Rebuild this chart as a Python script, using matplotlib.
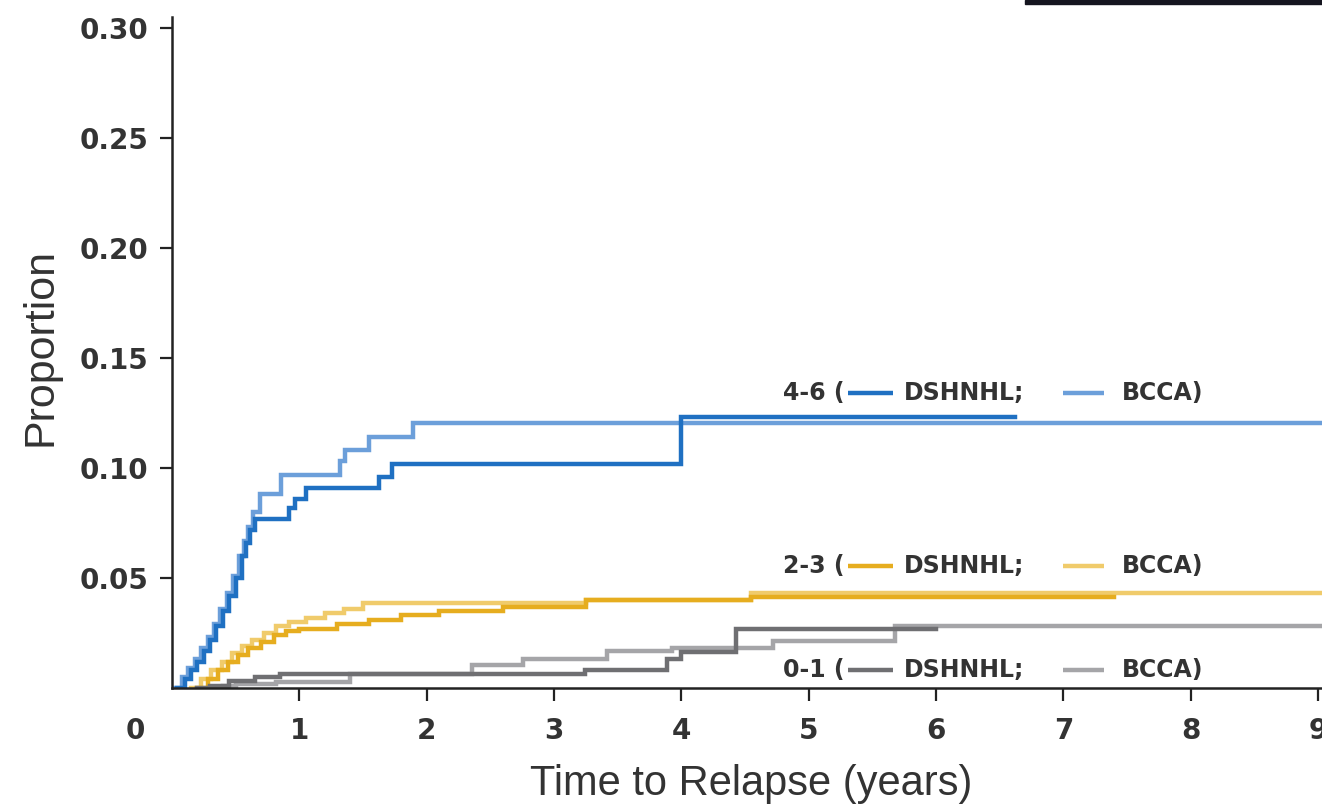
import matplotlib
matplotlib.use("Agg")
import matplotlib.pyplot as plt
from matplotlib.patches import Rectangle

# DATA (cumulative proportion relapsed)
t_46_dshnhl = [0.04, 0.10, 0.15, 0.20, 0.25, 0.30, 0.35, 0.40, 0.45, 0.50, 0.55, 0.58, 0.61, 0.65,
               0.92, 0.97, 1.05, 1.63, 1.73, 4.00, 6.62]
p_46_dshnhl = [0, 0.004, 0.008, 0.012, 0.017, 0.022, 0.028, 0.035, 0.042, 0.050, 0.060, 0.066, 0.072, 0.077,
               0.082, 0.086, 0.091, 0.096, 0.102, 0.123, 0.123]

t_46_bcca = [0.02, 0.08, 0.13, 0.18, 0.23, 0.28, 0.33, 0.38, 0.43, 0.48, 0.53, 0.57, 0.60, 0.64,
             0.69, 0.86, 1.32, 1.36, 1.55, 1.89, 9.05]
p_46_bcca = [0, 0.005, 0.009, 0.013, 0.018, 0.023, 0.029, 0.036, 0.043, 0.051, 0.060, 0.067, 0.073, 0.080,
             0.088, 0.097, 0.103, 0.108, 0.114, 0.1205, 0.1205]

t_23_dshnhl = [0.20, 0.28, 0.36, 0.44, 0.52, 0.60, 0.70, 0.80, 0.90, 1.00, 1.30, 1.55, 1.80, 2.10,
               2.60, 3.25, 4.55, 7.40]
p_23_dshnhl = [0, 0.004, 0.008, 0.012, 0.015, 0.018, 0.021, 0.024, 0.026, 0.027, 0.029, 0.031, 0.033, 0.035,
               0.037, 0.040, 0.0415, 0.0415]

t_23_bcca = [0.15, 0.23, 0.31, 0.39, 0.47, 0.55, 0.63, 0.72, 0.82, 0.92, 1.05, 1.20, 1.35, 1.50,
             3.25, 4.55, 9.05]
p_23_bcca = [0, 0.004, 0.008, 0.012, 0.016, 0.019, 0.022, 0.025, 0.028, 0.030, 0.032, 0.034, 0.036, 0.0385,
             0.040, 0.043, 0.043]

t_01_dshnhl = [0.20, 0.30, 0.45, 0.65, 0.85, 3.24, 3.89, 4.00, 4.43, 6.00]
p_01_dshnhl = [0, 0.001, 0.003, 0.005, 0.0064, 0.0084, 0.013, 0.0165, 0.027, 0.027]

t_01_bcca = [0.30, 0.40, 0.50, 0.82, 1.40, 2.36, 2.76, 3.42, 3.93, 4.72, 5.68, 9.05]
p_01_bcca = [0, 0.001, 0.002, 0.0027, 0.0065, 0.0105, 0.013, 0.0169, 0.0184, 0.0215, 0.0284, 0.0284]

x_ticks = [1, 2, 3, 4, 5, 6, 7, 8, 9]
y_ticks = [0.05, 0.10, 0.15, 0.20, 0.25, 0.30]
groups = ["4-6", "2-3", "0-1"]
label_y = [0.134, 0.0555, 0.0082]

# colours: (DSHNHL, BCCA) per group
colors = {
    "4-6": ("#1f70c2", "#6c9fda"),
    "2-3": ("#e6ad1f", "#f0cb6b"),
    "0-1": ("#6f6f72", "#a5a5a8"),
}
text_col = "#333333"
sans = ["DejaVu Sans"]
label_font = ["Liberation Sans", "DejaVu Sans"]


def main() -> None:
    fig = plt.figure(figsize=(13.22, 8.05), dpi=100)
    ax = fig.add_axes([0.130, 0.1453, 0.870, 0.834])

    series = [
        ("4-6", t_46_bcca, p_46_bcca, t_46_dshnhl, p_46_dshnhl),
        ("2-3", t_23_bcca, p_23_bcca, t_23_dshnhl, p_23_dshnhl),
        ("0-1", t_01_bcca, p_01_bcca, t_01_dshnhl, p_01_dshnhl),
    ]
    for g, tb, pb, td, pd in series:
        c_d, c_b = colors[g]
        ax.step(tb, pb, where="post", color=c_b, lw=3.2, solid_joinstyle="miter")
        ax.step(td, pd, where="post", color=c_d, lw=3.2, solid_joinstyle="miter")

    ax.set_xlim(0, 9.03)
    ax.set_ylim(0, 0.305)
    ax.set_xticks(x_ticks)
    ax.set_yticks(y_ticks)
    ax.set_xticklabels([str(v) for v in x_ticks])
    ax.set_yticklabels([f"{v:.2f}" for v in y_ticks])

    for side in ("top", "right"):
        ax.spines[side].set_visible(False)
    for side in ("left", "bottom"):
        ax.spines[side].set_linewidth(1.8)
        ax.spines[side].set_color("#222222")
    ax.tick_params(axis="y", length=9, width=1.6, color="#222222", pad=8)
    ax.tick_params(axis="x", length=9.5, width=1.6, color="#222222", pad=11)
    ax.tick_params(axis="both", labelsize=20, labelcolor=text_col)
    for lab in ax.get_xticklabels() + ax.get_yticklabels():
        lab.set_family(sans)
        lab.set_fontweight("bold")

    # origin label sits at the lower-left corner, on the x tick label row
    ax.text(-0.29, -28.5 / 2200, "0", ha="center", va="top",
            fontsize=20, fontweight="bold", color=text_col, family=sans, clip_on=False)

    ax.set_xlabel("Time to Relapse (years)", fontsize=30, color=text_col, family=label_font)
    ax.set_ylabel("Proportion", fontsize=31, color=text_col, family=label_font)
    ax.xaxis.set_label_coords(0.504, -0.113)
    ax.yaxis.set_label_coords(-0.097, 0.508)

    # inline keys
    for g, yv in zip(groups, label_y):
        c_d, c_b = colors[g]
        kw = dict(fontsize=17, fontweight="bold", color=text_col, family=sans, va="center")
        ax.text(5.28, yv, f"{g} (", ha="right", **kw)
        ax.plot([5.31, 5.66], [yv, yv], color=c_d, lw=3.2, solid_capstyle="butt")
        ax.text(5.75, yv, "DSHNHL;", ha="left", **kw)
        ax.plot([7.00, 7.32], [yv, yv], color=c_b, lw=3.2, solid_capstyle="butt")
        ax.text(7.46, yv, "BCCA)", ha="left", **kw)

    # strip of the panel above, cut off at the top edge
    fig.patches.append(Rectangle((0.775, 0.995), 0.225, 0.005, transform=fig.transFigure,
                                 color="#15151f", zorder=0))

    fig.savefig("out.png", dpi=100)


if __name__ == "__main__":
    main()
